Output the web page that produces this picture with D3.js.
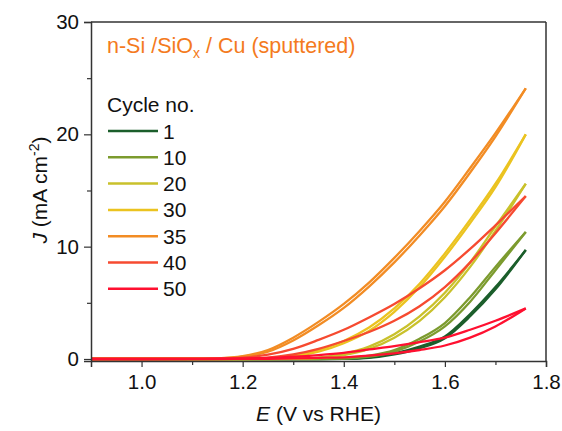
<!DOCTYPE html>
<html>
<head>
<meta charset="utf-8">
<script src="https://cdn.jsdelivr.net/npm/d3@7"></script>
<style>
  body { margin: 0; background: #fff; }
  svg { font-family: "Liberation Sans", Arial, sans-serif; }
</style>
</head>
<body>
<svg id="chart" width="562" height="431"></svg>
<script>
const cycles = ['1', '10', '20', '30', '35', '40', '50'];
const colors = ['#1b5e2b', '#7c9b2e', '#c9c12b', '#ebc320', '#f28c24', '#f64a30', '#ff1030'];
const potential = [0.9, 1.0, 1.1, 1.15, 1.2, 1.25, 1.3, 1.35, 1.4, 1.45, 1.5, 1.55, 1.6, 1.65, 1.7, 1.76];

// forward / reverse sweep current density (mA cm-2) for each cycle
const cycle1Fwd  = [0, 0, 0, 0, 0, 0, 0, 0, 0.02, 0.15, 0.5, 1.1, 2.0, 4.0, 6.4, 9.7];
const cycle1Rev  = [0, 0, 0, 0, 0, 0, 0, 0, 0.01, 0.1, 0.4, 0.95, 1.85, 3.8, 6.2, 9.7];
const cycle10Fwd = [0, 0, 0, 0, 0, 0, 0, 0.01, 0.05, 0.3, 0.8, 1.8, 3.2, 5.5, 8.2, 11.3];
const cycle10Rev = [0, 0, 0, 0, 0, 0, 0, 0, 0.03, 0.2, 0.65, 1.55, 2.9, 5.1, 7.9, 11.3];
const cycle20Fwd = [0, 0, 0, 0, 0, 0, 0.02, 0.12, 0.45, 1.1, 2.2, 3.8, 5.9, 8.6, 11.8, 15.6];
const cycle20Rev = [0, 0, 0, 0, 0, 0, 0.01, 0.08, 0.35, 0.9, 1.9, 3.4, 5.5, 8.2, 11.4, 15.6];
const cycle30Fwd = [0, 0, 0, 0, 0.01, 0.07, 0.3, 0.8, 1.6, 2.8, 4.5, 6.7, 9.4, 12.4, 15.6, 20.0];
const cycle30Rev = [0, 0, 0, 0, 0, 0.05, 0.22, 0.65, 1.4, 2.5, 4.2, 6.4, 9.1, 12.1, 15.3, 20.0];
const cycle35Fwd = [0, 0, 0.02, 0.06, 0.25, 0.8, 1.9, 3.3, 4.9, 6.8, 9.0, 11.4, 14.0, 17.0, 20.1, 24.1];
const cycle35Rev = [0, 0, 0.01, 0.04, 0.2, 0.65, 1.65, 3.0, 4.55, 6.45, 8.6, 11.0, 13.6, 16.6, 19.8, 24.1];
const cycle40Fwd = [0, 0, 0.01, 0.04, 0.12, 0.38, 0.9, 1.7, 2.6, 3.7, 4.9, 6.3, 7.9, 9.8, 11.9, 14.5];
const cycle40Rev = [0, 0, 0, 0.01, 0.03, 0.12, 0.4, 0.9, 1.6, 2.4, 3.4, 4.7, 6.4, 8.6, 11.2, 14.5];
const cycle50Fwd = [0, 0, 0.01, 0.02, 0.05, 0.1, 0.2, 0.35, 0.55, 0.85, 1.15, 1.5, 1.9, 2.6, 3.4, 4.5];
const cycle50Rev = [0, 0, 0, 0, 0.01, 0.02, 0.05, 0.1, 0.15, 0.3, 0.5, 0.8, 1.2, 1.9, 2.9, 4.5];

const sweeps = [
  [cycle1Fwd, cycle1Rev], [cycle10Fwd, cycle10Rev], [cycle20Fwd, cycle20Rev],
  [cycle30Fwd, cycle30Rev], [cycle35Fwd, cycle35Rev], [cycle40Fwd, cycle40Rev],
  [cycle50Fwd, cycle50Rev]
];

const xTicks = [1.0, 1.2, 1.4, 1.6, 1.8];
const yTicks = [0, 10, 20, 30];

const plotLeft = 91, plotRight = 546, plotTop = 22, plotBottom = 361;
const axisColor = '#333';

const svg = d3.select('#chart');
const x = d3.scaleLinear().domain([0.9, 1.8]).range([plotLeft, plotRight]);
const y = d3.scaleLinear().domain([-0.18, 30]).range([plotBottom, plotTop]);

const line = d3.line()
  .x(d => x(d[0]))
  .y(d => y(d[1]))
  .curve(d3.curveMonotoneX);

const plot = svg.append('g');
sweeps.forEach((pair, i) => {
  pair.forEach(vals => {
    plot.append('path')
      .datum(potential.map((e, k) => [e, vals[k]]))
      .attr('fill', 'none')
      .attr('stroke', colors[i])
      .attr('stroke-width', 2.3)
      .attr('stroke-linejoin', 'round')
      .attr('d', line);
  });
});

// axes
svg.append('g').attr('transform', `translate(0,${plotBottom})`)
  .call(d3.axisBottom(x).tickValues(xTicks).tickFormat(d3.format('.1f')).tickSizeOuter(0).tickSize(6).tickPadding(7));
svg.append('g').attr('transform', `translate(0,${plotBottom})`)
  .call(d3.axisBottom(x).tickValues([1.1, 1.3, 1.5, 1.7]).tickFormat('').tickSizeOuter(0).tickSize(4))
  .select('.domain').remove();

svg.append('g').attr('transform', `translate(${plotLeft},0)`)
  .call(d3.axisLeft(y).tickValues(yTicks).tickSizeOuter(0).tickSize(7).tickPadding(5));
svg.append('g').attr('transform', `translate(${plotLeft},0)`)
  .call(d3.axisLeft(y).tickValues([5, 15, 25]).tickFormat('').tickSizeOuter(0).tickSize(4))
  .select('.domain').remove();

svg.selectAll('.domain').attr('stroke', axisColor).attr('stroke-width', 1.5);
svg.selectAll('.tick line').attr('stroke', axisColor).attr('stroke-width', 1.2);
svg.selectAll('.tick text').attr('fill', '#111').style('font-size', '20.5px').style('font-family', '"Liberation Sans", Arial, sans-serif');

// frame top and right
svg.append('line').attr('x1', plotLeft).attr('x2', plotRight).attr('y1', plotTop).attr('y2', plotTop)
  .attr('stroke', axisColor).attr('stroke-width', 1.5);
svg.append('line').attr('x1', plotRight).attr('x2', plotRight).attr('y1', plotTop).attr('y2', plotBottom)
  .attr('stroke', axisColor).attr('stroke-width', 1.5);

// axis titles
const xt = svg.append('text').attr('x', (plotLeft + plotRight) / 2).attr('y', 421)
  .attr('text-anchor', 'middle').style('font-size', '21px').attr('fill', '#111');
xt.append('tspan').style('font-style', 'italic').text('E');
xt.append('tspan').text(' (V vs RHE)');

const yt = svg.append('text').attr('transform', 'translate(47,190) rotate(-90)')
  .attr('text-anchor', 'middle').style('font-size', '21px').attr('fill', '#111');
yt.append('tspan').style('font-style', 'italic').text('J');
yt.append('tspan').text(' (mA cm');
yt.append('tspan').attr('dy', -8).style('font-size', '14px').text('-2');
yt.append('tspan').attr('dy', 8).text(')');

// title
const title = svg.append('text').attr('x', 107).attr('y', 53)
  .style('font-size', '21.5px').attr('fill', '#f47a20');
title.append('tspan').text('n-Si /SiO');
title.append('tspan').attr('dy', 5).style('font-size', '14px').text('x');
title.append('tspan').attr('dy', -5).text(' / Cu (sputtered)');

// legend
svg.append('text').attr('x', 107).attr('y', 112).style('font-size', '21px').attr('fill', '#111').text('Cycle no.');
const leg = svg.selectAll('.leg').data(cycles).enter().append('g')
  .attr('transform', (d, i) => `translate(108,${131 + i * 26.3})`);
leg.append('line').attr('x1', 0).attr('x2', 50)
  .attr('stroke', (d, i) => colors[i]).attr('stroke-width', 2.5);
leg.append('text').attr('x', 55).attr('y', 7.5).style('font-size', '21px').attr('fill', '#111').text(d => d);
</script>
</body>
</html>
